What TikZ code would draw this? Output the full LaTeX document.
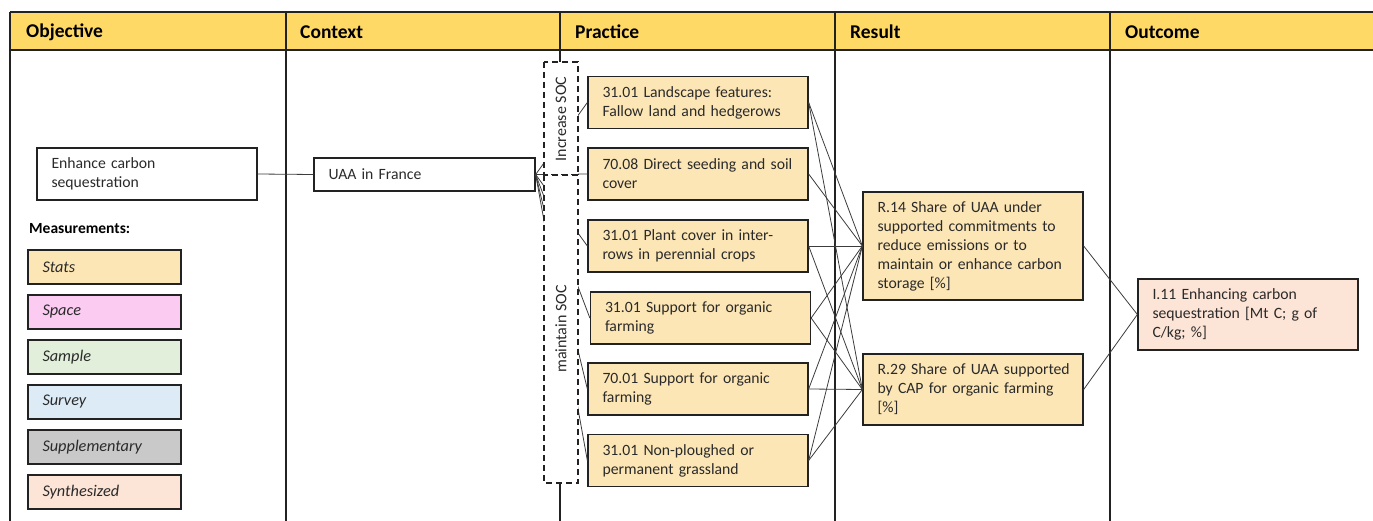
\documentclass[tikz,border=0pt]{standalone}
\usepackage{fontspec}
\setmainfont{Carlito}
\definecolor{headfill}{HTML}{FFD966}
\definecolor{statsfill}{HTML}{FCE6B6}
\definecolor{spacefill}{HTML}{FBCBF2}
\definecolor{samplefill}{HTML}{E2EFDA}
\definecolor{surveyfill}{HTML}{DDEBF7}
\definecolor{suppfill}{HTML}{C9C9C9}
\definecolor{synthfill}{HTML}{FCE4D6}
\definecolor{rule}{HTML}{222222}
\definecolor{txt}{HTML}{2A2A2A}
\definecolor{wire}{HTML}{3C3C3C}
% one unbreakable line of box text
\newcommand{\boxline}[1]{\mbox{#1}}
\tikzset{
  boxtext/.style={font=\fontsize{15.7}{19}\selectfont, text=txt},
  basebox/.style={draw=rule, line width=1.3pt, boxtext, align=left,
                  inner xsep=14.5pt, inner ysep=0pt},
  wide/.style={basebox, text width=191pt},
  pbox/.style={wide, fill=statsfill, minimum height=52pt},
  legendbox/.style={basebox, text width=124pt, minimum height=34pt,
                    font=\fontsize{16.3}{19}\selectfont\itshape},
  headtext/.style={anchor=west, inner sep=0pt, font=\fontsize{19.5}{23}\selectfont\bfseries},
  colrule/.style={draw=rule, line width=2pt},
  conn/.style={draw=wire, line width=0.8pt},
  socbox/.style={draw=rule, fill=white, line width=1.4pt,
                 dash pattern=on 6pt off 4pt},
  soctext/.style={rotate=90, font=\fontsize{16}{19}\selectfont, text=txt}
}
\begin{document}
\begin{tikzpicture}[x=1pt,y=-1pt]
\useasboundingbox (0,0) rectangle (1373,521);
\clip (0,0) rectangle (1373,521);

% header band and column rules
\fill[headfill] (10,12) rectangle (1390,50);
\draw[colrule] (10,12) -- (1390,12);
\draw[colrule] (10,50) -- (1390,50);
\foreach \cx in {10,286,560,835,1110}
  \draw[colrule] (\cx,12) -- (\cx,530);

\node[headtext] (hobj) at (26,32) {Objective};
\node[headtext] (hctx) at (300,32) {Context};
\node[headtext] (hpra) at (575,32) {Practice};
\node[headtext] (hres) at (850,32) {Result};
\node[headtext] (hout) at (1125,32) {Outcome};

% objective and context
\node[wide, minimum height=52pt] (obj) at (147,174) {Enhance carbon\\sequestration};
\node[basebox, text width=192pt, minimum height=33pt] (uaa) at (424.5,174.5) {UAA in France};

% measurement legend
\node[anchor=west, inner sep=0pt, font=\fontsize{15.5}{18}\selectfont\bfseries] (meas) at (29,229) {Measurements:};
\node[legendbox, fill=statsfill]  (lstats)  at (104.5,267) {Stats};
\node[legendbox, fill=spacefill]  (lspace)  at (104.5,312) {Space};
\node[legendbox, fill=samplefill] (lsample) at (104.5,357) {Sample};
\node[legendbox, fill=surveyfill] (lsurvey) at (104.5,402) {Survey};
\node[legendbox, fill=suppfill]   (lsupp)   at (104.5,447) {Supplementary};
\node[legendbox, fill=synthfill]  (lsynth)  at (104.5,492) {Synthesized};

% practices
\node[pbox] (p1) at (698,102.5) {\boxline{31.01 Landscape features:}\\\boxline{Fallow land and hedgerows}};
\node[pbox] (p2) at (698,174)   {\boxline{70.08 Direct seeding and soil}\\cover};
\node[pbox] (p3) at (698,246)   {\boxline{31.01 Plant cover in inter-}\\\boxline{rows in perennial crops}};
\node[pbox] (p4) at (700.5,318) {\boxline{31.01 Support for organic}\\farming};
\node[pbox] (p5) at (698,389)   {\boxline{70.01 Support for organic}\\farming};
\node[pbox] (p6) at (698,460.5) {\boxline{31.01 Non-ploughed or}\\\boxline{permanent grassland}};

% results and outcome
\node[wide, fill=statsfill, minimum height=108pt] (r14) at (973,246)
  {\boxline{R.14 Share of UAA under}\\\boxline{supported commitments to}\\\boxline{reduce emissions or to}\\\boxline{maintain or enhance carbon}\\\boxline{storage [\%]}};
\node[wide, fill=statsfill, minimum height=71pt] (r29) at (973,389.5)
  {\boxline{R.29 Share of UAA supported}\\\boxline{by CAP for organic farming}\\\boxline{[\%]}};
\node[wide, fill=synthfill, minimum height=71pt] (i11) at (1248,314.5)
  {\boxline{I.11 Enhancing carbon}\\\boxline{sequestration [Mt C; g of}\\\boxline{C/kg; \%]}};

% connectors
\draw[conn] (obj.east) -- (uaa.west);
\foreach \p in {p1,p2,p3,p4,p5,p6}
  \draw[conn] (uaa.east) -- (\p.west);
\foreach \p in {p1,p2,p3,p4,p5,p6}
  \draw[conn] (\p.east) -- (r14.west);
\foreach \p in {p1,p3,p4,p5,p6}
  \draw[conn] (\p.east) -- (r29.west);
\draw[conn] (r14.east) -- (i11.west);
\draw[conn] (r29.east) -- (i11.west);

% SOC grouping bands
\draw[socbox] (544,62) rectangle (578,175);
\draw[socbox] (544,175) rectangle (578,483);
\node[soctext] (socup) at (561,119) {Increase SOC};
\node[soctext] (socdown) at (561,329) {maintain SOC};
\end{tikzpicture}
\end{document}
